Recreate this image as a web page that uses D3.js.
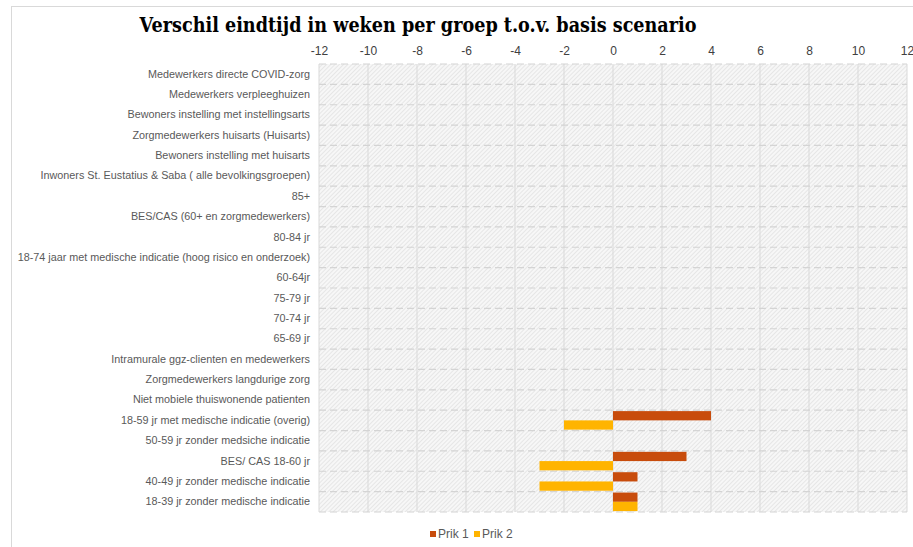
<!DOCTYPE html>
<html>
<head>
<meta charset="utf-8">
<script src="https://cdn.jsdelivr.net/npm/d3@7"></script>
<style>
  body { margin: 0; background: #fff; }
  svg { display: block; }
</style>
</head>
<body>
<div></div>
<script>
var outerWidth  = 913;
var outerHeight = 547;

var categories = [
  "Medewerkers directe COVID-zorg",
  "Medewerkers verpleeghuizen",
  "Bewoners instelling met instellingsarts",
  "Zorgmedewerkers huisarts (Huisarts)",
  "Bewoners instelling met huisarts",
  "Inwoners St. Eustatius & Saba ( alle bevolkingsgroepen)",
  "85+",
  "BES/CAS (60+ en zorgmedewerkers)",
  "80-84 jr",
  "18-74 jaar met medische indicatie (hoog risico en onderzoek)",
  "60-64jr",
  "75-79 jr",
  "70-74 jr",
  "65-69 jr",
  "Intramurale ggz-clienten en medewerkers",
  "Zorgmedewerkers langdurige zorg",
  "Niet mobiele thuiswonende patienten",
  "18-59 jr met medische indicatie (overig)",
  "50-59 jr zonder medsiche indicatie",
  "BES/ CAS 18-60 jr",
  "40-49 jr zonder medische indicatie",
  "18-39 jr zonder medische indicatie"
];
var prik1 = [0,0,0,0,0,0,0,0,0,0,0,0,0,0,0,0,0, 4, 0, 3, 1, 1];
var prik2 = [0,0,0,0,0,0,0,0,0,0,0,0,0,0,0,0,0, -2, 0, -3, -3, 1];
var seriesNames = ["Prik 1", "Prik 2"];
var seriesColors = ["#c84c0c", "#ffb400"];
var xTicks = [-12, -10, -8, -6, -4, -2, 0, 2, 4, 6, 8, 10, 12];

var plot = { left: 319, right: 907, top: 64, bottom: 512 };

var svg = d3.select("div").append("svg")
  .attr("width", outerWidth)
  .attr("height", outerHeight);

// hatched plot background
var defs = svg.append("defs");
var pat = defs.append("pattern")
  .attr("id", "hatch")
  .attr("patternUnits", "userSpaceOnUse")
  .attr("width", 3).attr("height", 3)
  .attr("patternTransform", "rotate(45)");
pat.append("rect").attr("width", 3).attr("height", 3).attr("fill", "#f7f7f7");
pat.append("line").attr("x1", 0).attr("y1", 0).attr("x2", 0).attr("y2", 3)
  .attr("stroke", "#d9d9d9").attr("stroke-width", 1.1);

// chart area frame
svg.append("rect")
  .attr("x", 11.5).attr("y", 6.5)
  .attr("width", 920).attr("height", 560)
  .attr("fill", "#fff")
  .attr("stroke", "#d9d9d9");

var xScale = d3.scaleLinear().domain([-12, 12]).range([plot.left, plot.right]);
var yScale = d3.scaleBand().domain(categories).range([plot.top, plot.bottom]);
var subScale = d3.scaleBand().domain(seriesNames)
  .range([0, yScale.bandwidth()]).paddingOuter(0.1);

svg.append("rect")
  .attr("x", plot.left).attr("y", plot.top)
  .attr("width", plot.right - plot.left)
  .attr("height", plot.bottom - plot.top)
  .attr("fill", "url(#hatch)");

// vertical gridlines
svg.append("g").selectAll("line").data(xTicks).enter().append("line")
  .attr("x1", function (d) { return xScale(d); })
  .attr("x2", function (d) { return xScale(d); })
  .attr("y1", plot.top).attr("y2", plot.bottom)
  .attr("stroke", "#d9d9d9").attr("stroke-width", 1);

// horizontal dashed gridlines on row boundaries
var rowEdges = categories.map(function (c) { return yScale(c); }).concat([plot.bottom]);
svg.append("g").selectAll("line").data(rowEdges).enter().append("line")
  .attr("x1", plot.left).attr("x2", plot.right)
  .attr("y1", function (d) { return d; })
  .attr("y2", function (d) { return d; })
  .attr("stroke", "#d4d4d4").attr("stroke-width", 1.2)
  .attr("stroke-dasharray", "7,4");

// top axis
var xAxis = d3.axisTop(xScale).tickValues(xTicks)
  .tickFormat(function (d) { return String(d); })
  .tickSize(0).tickPadding(0);
var gx = svg.append("g")
  .attr("transform", "translate(0," + 55 + ")")
  .call(xAxis);
gx.select(".domain").remove();
gx.selectAll("text")
  .attr("font-family", "Liberation Sans, Arial, sans-serif")
  .attr("font-size", 12)
  .attr("fill", "#404040");

// category axis
var yAxis = d3.axisLeft(yScale).tickSize(0).tickPadding(0);
var gy = svg.append("g")
  .attr("transform", "translate(" + 310 + ",0)")
  .call(yAxis);
gy.select(".domain").remove();
gy.selectAll("text")
  .attr("font-family", "Liberation Sans, Arial, sans-serif")
  .attr("font-size", 10.8)
  .attr("fill", "#595959");

// bars
var barData = [];
categories.forEach(function (c, i) {
  [prik1[i], prik2[i]].forEach(function (v, s) {
    if (v !== 0) barData.push({ cat: c, series: seriesNames[s], value: v, color: seriesColors[s] });
  });
});

svg.append("g").selectAll("rect").data(barData).enter().append("rect")
  .attr("x", function (d) { return xScale(Math.min(0, d.value)); })
  .attr("width", function (d) { return Math.abs(xScale(d.value) - xScale(0)); })
  .attr("y", function (d) { return yScale(d.cat) + subScale(d.series); })
  .attr("height", subScale.bandwidth())
  .attr("fill", function (d) { return d.color; });

// title
svg.append("text")
  .attr("x", 418).attr("y", 32)
  .attr("text-anchor", "middle")
  .attr("font-family", "DejaVu Serif, Georgia, serif")
  .attr("font-weight", "bold")
  .attr("font-size", 21)
  .attr("textLength", 557)
  .attr("lengthAdjust", "spacingAndGlyphs")
  .attr("fill", "#000")
  .text("Verschil eindtijd in weken per groep t.o.v. basis scenario");

// legend
var legendX = [430, 474];
var legend = svg.append("g").selectAll("g").data(seriesNames).enter().append("g")
  .attr("transform", function (d, i) { return "translate(" + legendX[i] + ",531)"; });
legend.append("rect")
  .attr("width", 6).attr("height", 6)
  .attr("fill", function (d, i) { return seriesColors[i]; });
legend.append("text")
  .attr("x", 8).attr("y", 7)
  .attr("font-family", "Liberation Sans, Arial, sans-serif")
  .attr("font-size", 12)
  .attr("fill", "#595959")
  .text(function (d) { return d; });
</script>
</body>
</html>
